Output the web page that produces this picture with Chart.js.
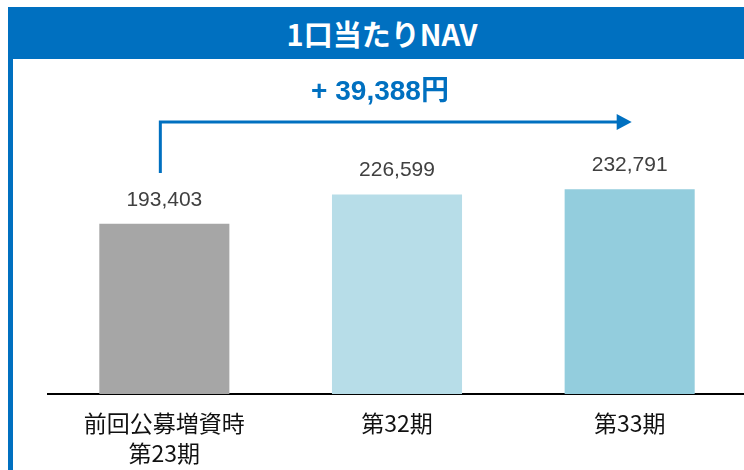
<!DOCTYPE html>
<html lang="ja">
<head>
<meta charset="utf-8">
<script src="https://cdn.jsdelivr.net/npm/chart.js@4.4.1/dist/chart.umd.min.js"></script>
<style>
  html, body { margin: 0; padding: 0; background: #fff; overflow: hidden; }
  #wrap { position: relative; width: 744px; height: 470px; overflow: hidden; }
  #chart { position: absolute; left: 0; top: 0; }
  #header {
    position: absolute; left: 8px; top: 7px; width: 740px; height: 52px;
    background: #0070C0; color: #fff;
    font: bold 29px "Noto Sans CJK JP", "Liberation Sans", sans-serif;
    line-height: 52px; text-align: center; text-indent: 8px;
  }
  #leftbar { position: absolute; left: 8px; top: 59px; width: 5px; height: 420px; background: #0070C0; }
  #diff {
    position: absolute; left: 230px; width: 300px; top: 68px; text-align: center;
    color: #0070C0; font: bold 28px "Liberation Sans", "Noto Sans CJK JP", sans-serif;
  }
</style>
</head>
<body>
<div id="wrap">
  <canvas id="chart" width="746" height="470"></canvas>
  <div id="header">1口当たりNAV</div>
  <div id="leftbar"></div>
  <div id="diff"></div>
</div>
<script>
const categories = [["前回公募増資時", "第23期"], "第32期", "第33期"];
const navValues = [193403, 226599, 232791];
const barColors = ["#A6A6A6", "#B7DDE8", "#93CDDD"];

// 増加額
const diff = navValues[navValues.length - 1] - navValues[0];
document.getElementById("diff").textContent = "+ " + diff.toLocaleString("en-US") + "円";

const valueLabels = {
    id: "valueLabels",
    afterDatasetsDraw(chart) {
        const ctx = chart.ctx;
        const meta = chart.getDatasetMeta(0);
        ctx.save();
        ctx.font = '21px "Liberation Sans", sans-serif';
        ctx.fillStyle = "#404040";
        ctx.textAlign = "center";
        ctx.textBaseline = "middle";
        meta.data.forEach((bar, i) => {
            ctx.fillText(navValues[i].toLocaleString("en-US"), bar.x, bar.y - 24);
        });
        ctx.restore();
    }
};

const arrow = {
    id: "arrow",
    afterDatasetsDraw(chart) {
        const ctx = chart.ctx;
        const x = chart.scales.x;
        const x0 = x.getPixelForValue(0) - 4;
        const x1 = x.getPixelForValue(2) + 2;
        const yTop = 122, yBottom = 173;
        ctx.save();
        ctx.strokeStyle = "#0070C0";
        ctx.fillStyle = "#0070C0";
        ctx.lineWidth = 3;
        ctx.beginPath();
        ctx.moveTo(x0, yBottom);
        ctx.lineTo(x0, yTop);
        ctx.lineTo(x1 - 14, yTop);
        ctx.stroke();
        ctx.beginPath();
        ctx.moveTo(x1 - 15, yTop - 8);
        ctx.lineTo(x1, yTop);
        ctx.lineTo(x1 - 15, yTop + 8);
        ctx.closePath();
        ctx.fill();
        ctx.restore();
    }
};

new Chart(document.getElementById("chart").getContext("2d"), {
    type: "bar",
    data: {
        labels: categories,
        datasets: [{
            data: navValues,
            backgroundColor: barColors,
            categoryPercentage: 1,
            barPercentage: 0.559
        }]
    },
    options: {
        responsive: false,
        animation: false,
        layout: { padding: { left: 48, right: 0, top: 130, bottom: 0 } },
        plugins: { legend: { display: false }, tooltip: { enabled: false } },
        scales: {
            x: {
                grid: { display: false, drawTicks: false },
                border: { display: true, color: "#000", width: 2 },
                ticks: {
                    padding: 15,
                    color: "#111",
                    font: { family: '"Noto Sans CJK JP", sans-serif', size: 23, lineHeight: 1.28 }
                },
                afterFit: s => { s.height = 76; }
            },
            y: {
                display: false,
                min: 0,
                max: 300000
            }
        }
    },
    plugins: [valueLabels, arrow]
});
</script>
</body>
</html>
